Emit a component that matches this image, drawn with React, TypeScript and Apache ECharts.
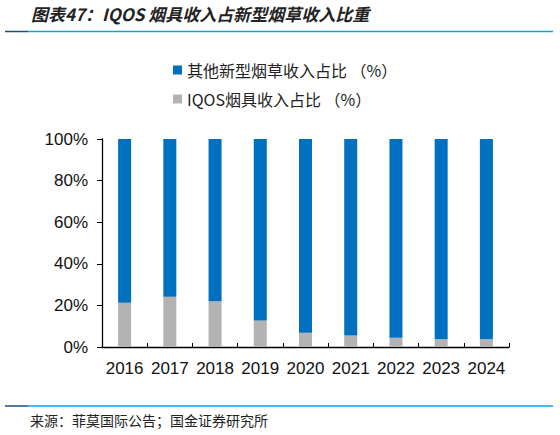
import React, { useEffect, useRef } from "react";
import * as echarts from "echarts";

// 年份
const years = ["2016", "2017", "2018", "2019", "2020", "2021", "2022", "2023", "2024"];
// IQOS烟具收入占比（%）
const iqosShare = [21.3, 24.2, 22.0, 12.8, 6.9, 5.5, 4.5, 3.7, 3.7];
// 其他新型烟草收入占比（%）
const otherShare = iqosShare.map((v) => +(100 - v).toFixed(1));
const yTicks = [0, 20, 40, 60, 80, 100];

const cjk = '"Noto Sans CJK SC", sans-serif';
const latin = 'Arial, "Liberation Sans", sans-serif';

export default function App() {
	const chartRef = useRef<HTMLDivElement>(null);

	useEffect(() => {
		if (!chartRef.current) return;
		const chart = echarts.init(chartRef.current, undefined, { renderer: "svg" });

		const option: echarts.EChartsCoreOption = {
			animation: false,
			backgroundColor: "#ffffff",
			legend: {
				orient: "vertical",
				left: 168,
				top: 57,
				itemWidth: 9,
				itemHeight: 9,
				itemGap: 13,
				icon: "rect",
				textStyle: { fontFamily: cjk, fontSize: 16, color: "#222" },
				data: ["其他新型烟草收入占比 （%）", "IQOS烟具收入占比 （%）"],
			},
			grid: { left: 102, right: 51, top: 139, bottom: 88, containLabel: false },
			xAxis: {
				type: "category",
				data: years,
				axisLine: { lineStyle: { color: "#000", width: 1.3 } },
				axisTick: { show: true, inside: true, length: 4, lineStyle: { color: "#000" } },
				axisLabel: { fontFamily: latin, fontSize: 17, color: "#111", margin: 13, interval: 0 },
			},
			yAxis: {
				type: "value",
				min: 0,
				max: 100,
				interval: 20,
				axisLine: { show: true, lineStyle: { color: "#000", width: 1.3 } },
				axisTick: { show: true, length: 5, lineStyle: { color: "#000" } },
				splitLine: { show: false },
				axisLabel: {
					fontFamily: latin,
					fontSize: 17,
					color: "#111",
					margin: 14,
					formatter: (v: number) => (yTicks.includes(v) ? v + "%" : ""),
				},
			},
			series: [
				{
					name: "IQOS烟具收入占比 （%）",
					type: "bar",
					stack: "total",
					barWidth: 13,
					itemStyle: { color: "#B3B3B3" },
					data: iqosShare,
				},
				{
					name: "其他新型烟草收入占比 （%）",
					type: "bar",
					stack: "total",
					barWidth: 13,
					itemStyle: { color: "#0070C0" },
					data: otherShare,
				},
			],
			graphic: [
				{
					type: "text",
					left: 31,
					top: 5,
					style: {
						text: "图表47：IQOS 烟具收入占新型烟草收入比重",
						fontFamily: cjk,
						fontSize: 17,
						fontWeight: "bold",
						fontStyle: "italic",
						fill: "#222",
					},
				},
				{ type: "line", shape: { x1: 5, y1: 31.5, x2: 28, y2: 31.5 }, style: { stroke: "#1F4E79", lineWidth: 1.5 } },
				{ type: "line", shape: { x1: 28, y1: 31.5, x2: 553, y2: 31.5 }, style: { stroke: "#00A6E6", lineWidth: 1.5 } },
				{ type: "line", shape: { x1: 5, y1: 406, x2: 28, y2: 406 }, style: { stroke: "#1F4E79", lineWidth: 1.5 } },
				{ type: "line", shape: { x1: 28, y1: 406, x2: 553, y2: 406 }, style: { stroke: "#00A6E6", lineWidth: 1.5 } },
				{
					type: "text",
					left: 30,
					top: 413,
					style: {
						text: "来源：菲莫国际公告；国金证券研究所",
						fontFamily: cjk,
						fontSize: 14,
						fill: "#222",
					},
				},
			],
		};

		chart.setOption(option);
		return () => {
			chart.dispose();
		};
	}, []);

	return <div ref={chartRef} style={{ width: 560, height: 435, position: "absolute", left: 0, top: 0 }} />;
}
